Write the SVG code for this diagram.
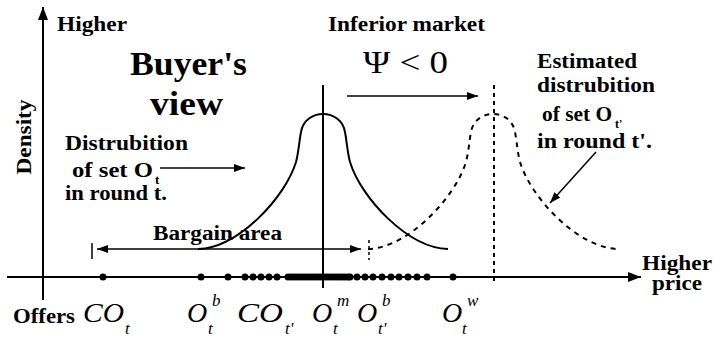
<svg xmlns="http://www.w3.org/2000/svg" width="713" height="337" viewBox="0 0 713 337">
<defs>
<marker id="ah" markerUnits="userSpaceOnUse" markerWidth="12" markerHeight="8" refX="11" refY="4" orient="auto-start-reverse"><path d="M0,0 L11,4 L0,8 z" fill="#000"/></marker>
<marker id="axh" markerUnits="userSpaceOnUse" markerWidth="14" markerHeight="10" refX="13" refY="5" orient="auto"><path d="M0,0 L13,5 L0,10 z" fill="#000"/></marker>
<path id="bell" d="M198,249 C238,248 285,198 296,162 C299,150 299,142 301,132 C303,120 313,114 323,114 C333,114 343,120 345,132 C347,142 347,150 350,162 C361,198 408,248 448,249"/>
</defs>
<style>
text{font-family:"Liberation Serif","Times New Roman",Times,serif;fill:#000}
.b{font-weight:bold}
.m{font-style:italic}
.ln{stroke:#000;fill:none}
.dot{fill:#000}
</style>
<rect width="713" height="337" fill="#fff"/>
<g id="connectors">
<line class="ln" x1="43" y1="300" x2="43" y2="7" stroke-width="2" marker-end="url(#axh)"/>
<line class="ln" x1="7" y1="277" x2="641" y2="277" stroke-width="2" marker-end="url(#axh)"/>
<line class="ln" x1="323" y1="85" x2="323" y2="288" stroke-width="2"/>
<line class="ln" x1="494" y1="85" x2="494" y2="285" stroke-width="2" stroke-dasharray="4 4"/>
<line class="ln" x1="92" y1="243" x2="92" y2="259" stroke-width="1.5"/>
<line class="ln" x1="369" y1="240" x2="369" y2="260" stroke-width="1.5" stroke-dasharray="3 3"/>
<line class="ln" x1="97" y1="249" x2="361" y2="249" stroke-width="1.5" marker-start="url(#ah)" marker-end="url(#ah)"/>
<line class="ln" x1="347" y1="96" x2="478" y2="96" stroke-width="1.5" marker-end="url(#ah)"/>
<line class="ln" x1="160" y1="168" x2="245" y2="168" stroke-width="1.5" marker-end="url(#ah)"/>
<line class="ln" x1="596" y1="152" x2="550" y2="203" stroke-width="1.5" marker-end="url(#ah)"/>
<use href="#bell" class="ln" stroke-width="2"/>
<use href="#bell" class="ln" stroke-width="2" stroke-dasharray="5 5" transform="translate(170,0)"/>
</g>
<g id="offers">
<circle class="dot" cx="103" cy="277" r="3.5"/>
<circle class="dot" cx="201" cy="277" r="3.5"/>
<circle class="dot" cx="228" cy="277" r="3.5"/>
<circle class="dot" cx="245" cy="277" r="3.5"/>
<circle class="dot" cx="253" cy="277" r="3.5"/>
<circle class="dot" cx="261" cy="277" r="3.5"/>
<circle class="dot" cx="269" cy="277" r="3.5"/>
<circle class="dot" cx="277" cy="277" r="3.5"/>
<circle class="dot" cx="288" cy="277" r="3.5"/>
<circle class="dot" cx="291" cy="277" r="3.5"/>
<circle class="dot" cx="294" cy="277" r="3.5"/>
<circle class="dot" cx="297" cy="277" r="3.5"/>
<circle class="dot" cx="300" cy="277" r="3.5"/>
<circle class="dot" cx="303" cy="277" r="3.5"/>
<circle class="dot" cx="306" cy="277" r="3.5"/>
<circle class="dot" cx="309" cy="277" r="3.5"/>
<circle class="dot" cx="312" cy="277" r="3.5"/>
<circle class="dot" cx="315" cy="277" r="3.5"/>
<circle class="dot" cx="318" cy="277" r="3.5"/>
<circle class="dot" cx="321" cy="277" r="3.5"/>
<circle class="dot" cx="324" cy="277" r="3.5"/>
<circle class="dot" cx="327" cy="277" r="3.5"/>
<circle class="dot" cx="330" cy="277" r="3.5"/>
<circle class="dot" cx="333" cy="277" r="3.5"/>
<circle class="dot" cx="336" cy="277" r="3.5"/>
<circle class="dot" cx="339" cy="277" r="3.5"/>
<circle class="dot" cx="342" cy="277" r="3.5"/>
<circle class="dot" cx="345" cy="277" r="3.5"/>
<circle class="dot" cx="348" cy="277" r="3.5"/>
<circle class="dot" cx="350" cy="277" r="3.5"/>
<circle class="dot" cx="357" cy="277" r="3.5"/>
<circle class="dot" cx="365" cy="277" r="3.5"/>
<circle class="dot" cx="373" cy="277" r="3.5"/>
<circle class="dot" cx="382" cy="277" r="3.5"/>
<circle class="dot" cx="391" cy="277" r="3.5"/>
<circle class="dot" cx="399" cy="277" r="3.5"/>
<circle class="dot" cx="408" cy="277" r="3.5"/>
<circle class="dot" cx="417" cy="277" r="3.5"/>
<circle class="dot" cx="427" cy="277" r="3.5"/>
<circle class="dot" cx="453" cy="277" r="3.5"/>
</g>
<g id="axis-labels">
<text class="b" x="57" y="31" font-size="20" textLength="70" lengthAdjust="spacingAndGlyphs">Higher</text>
<text class="b" font-size="20" text-anchor="middle" transform="translate(31,137) rotate(-90)" textLength="75" lengthAdjust="spacingAndGlyphs">Density</text>
<text class="b" x="642" y="270" font-size="20" textLength="70" lengthAdjust="spacingAndGlyphs">Higher</text>
<text class="b" x="652" y="290" font-size="20" textLength="50" lengthAdjust="spacingAndGlyphs">price</text>
<text class="b" x="13" y="323" font-size="20" textLength="62" lengthAdjust="spacingAndGlyphs">Offers</text>
</g>
<g id="buyers-view">
<text class="b" x="130" y="75" font-size="34" textLength="117" lengthAdjust="spacingAndGlyphs">Buyer's</text>
<text class="b" x="150" y="115" font-size="34" textLength="73" lengthAdjust="spacingAndGlyphs">view</text>
</g>
<g id="inferior-market">
<text class="b" x="328" y="31" font-size="20" textLength="157" lengthAdjust="spacingAndGlyphs">Inferior market</text>
<text x="363" y="73" font-size="32" textLength="85" lengthAdjust="spacingAndGlyphs">Ψ &lt; 0</text>
</g>
<g id="dist-t">
<text class="b" x="65" y="150" font-size="20" textLength="123" lengthAdjust="spacingAndGlyphs">Distrubition</text>
<text class="b" x="72" y="177" font-size="20" textLength="81" lengthAdjust="spacingAndGlyphs">of set O</text>
<text class="b" x="155" y="184" font-size="13">t</text>
<text class="b" x="65" y="200" font-size="20" textLength="102" lengthAdjust="spacingAndGlyphs">in round t.</text>
</g>
<g id="dist-tp">
<text class="b" x="537" y="68" font-size="20" textLength="100" lengthAdjust="spacingAndGlyphs">Estimated</text>
<text class="b" x="537" y="92" font-size="20" textLength="118" lengthAdjust="spacingAndGlyphs">distrubition</text>
<text class="b" x="542" y="121" font-size="20" textLength="70" lengthAdjust="spacingAndGlyphs">of set O</text>
<text class="b" x="615" y="128" font-size="12">t'</text>
<text class="b" x="537" y="148" font-size="20" textLength="115" lengthAdjust="spacingAndGlyphs">in round t'.</text>
</g>
<g id="bargain-area">
<text class="b" x="153" y="240" font-size="20" textLength="129" lengthAdjust="spacingAndGlyphs">Bargain area</text>
</g>
<g id="price-labels">
<text class="m" x="83" y="322" font-size="27" textLength="41" lengthAdjust="spacingAndGlyphs">CO</text>
<text class="m" x="125" y="334" font-size="17">t</text>
<text class="m" x="187" y="322" font-size="28">O</text>
<text class="m" x="212" y="306" font-size="17">b</text>
<text class="m" x="208" y="334" font-size="17">t</text>
<text class="m" x="237" y="322" font-size="27" textLength="46" lengthAdjust="spacingAndGlyphs">CO</text>
<text class="m" x="285" y="334" font-size="17">t'</text>
<text class="m" x="312" y="322" font-size="28">O</text>
<text class="m" x="337" y="306" font-size="17">m</text>
<text class="m" x="333" y="334" font-size="17">t</text>
<text class="m" x="357" y="322" font-size="28">O</text>
<text class="m" x="382" y="306" font-size="17">b</text>
<text class="m" x="378" y="334" font-size="17">t'</text>
<text class="m" x="442" y="322" font-size="28">O</text>
<text class="m" x="467" y="306" font-size="17">w</text>
<text class="m" x="462" y="334" font-size="17">t</text>
</g>
</svg>
